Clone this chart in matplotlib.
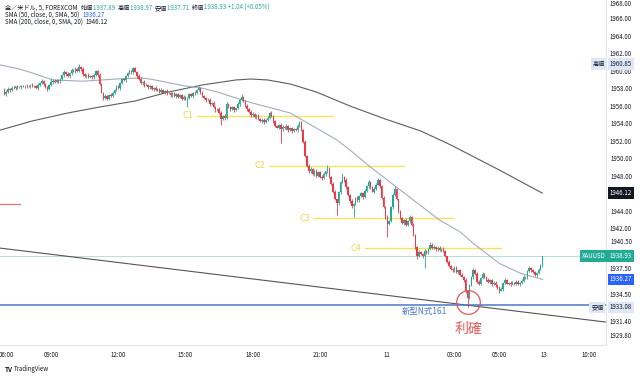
import matplotlib
matplotlib.use("Agg")
import matplotlib.pyplot as plt
import numpy as np

plt.rcParams['font.family'] = ['Noto Sans CJK JP', 'DejaVu Sans']

# XAUUSD 5 min candles, open of each = previous close
first_open = 1957.9
closes = [
    1957.45, 1957.7, 1958.0, 1957.9, 1958.15, 1958.1, 1958.3, 1958.2, 1958.25, 1958.35,
    1958.3, 1958.4, 1958.35, 1958.3, 1958.45, 1958.4, 1958.3, 1958.15, 1958.5, 1958.7,
    1958.95, 1958.6, 1958.2, 1958.05, 1958.5, 1958.8, 1958.95, 1958.85, 1959.0, 1958.9,
    1959.1, 1959.6, 1960.0, 1959.7, 1959.5, 1959.8, 1960.2, 1960.0, 1960.3, 1960.1,
    1960.55, 1960.3, 1959.7, 1959.5, 1959.6, 1959.4, 1959.5, 1959.35, 1959.6, 1960.05,
    1959.6, 1958.6, 1957.6, 1957.0, 1957.2, 1956.9, 1957.3, 1957.2, 1957.6, 1957.9,
    1958.3, 1958.1, 1958.7, 1959.1, 1959.0, 1959.5, 1959.8, 1960.1, 1959.9, 1960.35,
    1960.0, 1959.5, 1959.2, 1958.7, 1958.8, 1958.4, 1958.5, 1958.2, 1958.3, 1958.0,
    1958.1, 1957.9, 1958.0, 1957.7, 1957.9, 1957.6, 1957.8, 1957.5, 1957.6, 1957.3,
    1957.5, 1957.2, 1957.4, 1957.1, 1957.3, 1956.9, 1957.1, 1956.8, 1957.0, 1957.4,
    1957.2, 1957.6, 1957.5, 1957.9, 1958.1, 1957.6, 1957.2, 1957.0, 1956.7, 1956.8,
    1956.3, 1956.4, 1955.9, 1955.6, 1955.7, 1955.3, 1954.6, 1954.9, 1954.7, 1956.3,
    1956.0, 1955.7, 1955.9, 1955.6, 1955.8, 1956.3, 1956.8, 1957.1, 1956.6, 1956.1,
    1955.7, 1955.4, 1955.0, 1955.2, 1954.8, 1955.0, 1954.6, 1954.3, 1954.5, 1954.2,
    1954.5, 1954.7, 1955.3, 1954.9, 1954.3, 1953.8, 1953.6, 1953.9, 1953.4, 1953.7,
    1953.5, 1953.8, 1953.3, 1953.5, 1953.2, 1953.4, 1953.3, 1953.8, 1954.2, 1953.3,
    1952.0, 1950.4, 1949.2, 1948.6, 1948.9, 1948.3, 1948.7, 1948.1, 1948.5, 1948.0,
    1947.8, 1948.3, 1948.6, 1948.9, 1948.0, 1947.2, 1946.3, 1945.4, 1945.0, 1946.2,
    1947.4, 1948.0, 1947.6, 1946.8, 1945.9, 1945.2, 1944.6, 1944.9, 1945.6, 1945.3,
    1945.8, 1946.1, 1945.7, 1946.4, 1946.9, 1947.4, 1946.8, 1946.3, 1946.6, 1947.1,
    1947.6, 1946.9, 1945.6, 1944.5, 1943.4, 1942.6, 1942.9, 1944.5, 1945.9, 1946.6,
    1945.4, 1944.0, 1943.3, 1942.7, 1943.1, 1942.5, 1942.9, 1943.4, 1942.5, 1941.3,
    1940.0, 1939.0, 1939.4, 1939.2, 1938.9, 1939.5, 1939.3, 1939.8, 1940.2, 1939.9,
    1940.0, 1939.7, 1939.9, 1939.6, 1939.8, 1939.5, 1938.9, 1938.3, 1937.8, 1937.5,
    1937.3, 1937.6, 1937.1, 1937.3, 1936.8, 1936.6, 1936.2, 1934.9, 1934.2, 1935.6,
    1936.5, 1937.4, 1936.9, 1936.0, 1935.8, 1936.4, 1936.9, 1936.6, 1936.2, 1936.0,
    1936.2, 1935.7, 1935.9, 1935.6, 1935.3, 1935.0, 1935.2, 1935.9, 1936.2, 1935.8,
    1935.9, 1935.7, 1935.9, 1935.8, 1936.0, 1935.7, 1935.9, 1936.1, 1936.6, 1936.5,
    1937.2, 1937.6, 1937.3, 1937.1, 1936.8, 1937.0, 1937.4, 1937.89, 1938.93,
]
wick_up = [
    .2, .15, .2, .1, .2, .15, .1, .2, .15, .1,
    .15, .1, .2, .1, .15, .2, .1, .15, .2, .15,
    .2, .1, .15, .2, .1, .5, .2, .15, .2, .1,
    .2, .15, .2, .1, .2, .15, .2, .1, .2, .15,
    .3, .1, .2, .15, .1, .2, .15, .1, .2, .15,
    .1, .2, .15, .1, .2, .15, .1, .2, .15, .1,
    .2, .15, .1, .2, .15, .1, .2, .15, .1, .2,
    .15, .1, .2, .15, .1, .2, .15, .1, .2, .15,
    .1, .2, .15, .1, .2, .15, .1, .2, .15, .1,
    .2, .15, .1, .2, .15, .1, .2, .15, .1, .2,
    .15, .1, .2, .15, .2, .1, .2, .15, .1, .2,
    .15, .1, .2, .15, .1, .2, .15, .1, .2, .2,
    .15, .1, .2, .15, .1, .2, .15, .3, .1, .2,
    .15, .1, .2, .15, .1, .2, .15, .1, .2, .15,
    .1, .2, .1, .15, .1, .2, .15, .1, .2, .15,
    .1, .2, .15, .1, .2, .15, .1, .2, .2, .1,
    .15, .2, .1, .2, .15, .1, .2, .15, .1, .2,
    .15, .2, .1, .4, .15, .1, .2, .15, .1, .2,
    .15, .4, .1, .2, .15, .1, .2, .15, .1, .2,
    .15, .1, .2, .15, .1, .2, .15, .1, .2, .15,
    .3, .1, .2, .15, .1, .2, .15, .1, .2, .3,
    .15, .1, .2, .15, .1, .2, .15, .2, .1, .2,
    .15, .1, .2, .15, .1, .2, .15, .1, .3, .2,
    .15, .1, .2, .15, .1, .2, .15, .1, .2, .15,
    .1, .2, .15, .1, .2, .15, .1, .2, .15, .1,
    .2, .15, .1, .2, .15, .1, .2, .15, .1, .2,
    .15, .1, .2, .15, .1, .2, .15, .1, .2, .15,
    .1, .2, .15, .1, .2, .15, .1, .2, .15, .1,
    .2, .15, .1, .2, .15, .1, .2, .15, .04,
]
wick_dn = [
    .15, .2, .1, .2, .15, .1, .2, .15, .1, .2,
    .1, .15, .2, .1, .15, .2, .1, .15, .2, .1,
    .15, .2, .1, .25, .15, .1, .2, .15, .1, .2,
    .15, .1, .2, .15, .1, .2, .15, .1, .2, .15,
    .1, .2, .15, .1, .2, .15, .1, .2, .15, .1,
    .2, .15, .1, .2, .15, .15, .2, .15, .1, .2,
    .15, .1, .2, .15, .1, .2, .15, .1, .2, .15,
    .1, .2, .15, .1, .2, .15, .1, .2, .15, .1,
    .2, .15, .1, .2, .15, .1, .2, .15, .1, .2,
    .15, .1, .2, .15, .1, .2, .15, .1, .8, .15,
    .1, .2, .15, .1, .15, .2, .1, .15, .2, .1,
    .2, .15, .1, .2, .15, .1, .7, .15, .2, .1,
    .2, .15, .1, .2, .15, .1, .2, .15, .1, .2,
    .15, .1, .2, .15, .1, .2, .15, .1, .2, .15,
    .1, .2, .15, .1, .2, .15, .1, .2, 1.5, .15,
    .1, .2, .15, .1, .2, .15, .1, .2, .15, .1,
    .2, .15, .1, .2, .15, .1, .2, .15, .1, .2,
    .15, .1, .2, .15, .1, .2, .15, .1, 1.4, .2,
    .15, .1, .2, .15, .1, .2, .15, 1.2, .1, .2,
    .15, .1, .2, .15, .1, .2, .15, .1, .2, .15,
    .1, .2, .15, .1, .2, 1.5, .15, .1, .2, .15,
    .1, .2, .15, .1, .2, .15, .1, .2, .15, .1,
    .2, .4, .15, .1, .2, 1.3, .15, .1, .2, .15,
    .1, .2, .15, .1, .2, .15, .1, .2, .15, .1,
    .2, .15, .1, .2, .15, .1, .2, .15, 1.12, .15,
    .1, .2, .15, .1, .2, .15, .1, .2, .15, .1,
    .2, .15, .1, .2, .15, .3, .1, .2, .15, .1,
    .2, .15, .1, .2, .15, .1, .2, .15, .1, .2,
    .15, .1, .2, .15, .1, .2, .15, .1, .18,
]

# moving averages (candle index, price)
sma50_idx = [-2, 8, 15, 26, 42, 60, 73, 78, 97, 106, 114, 124, 133, 145, 153, 167,
             178, 185, 196, 207, 221, 233, 244, 251, 265, 276, 288]
sma50_val = [1960.75, 1960.3, 1959.84, 1959.04, 1958.9, 1959.15, 1959.27, 1959.15,
             1958.35, 1958.1, 1957.67, 1956.98, 1956.4, 1955.73, 1955.27, 1953.56,
             1952.2, 1951.05, 1949.1, 1947.3, 1945.0, 1943.05, 1941.7, 1940.4,
             1938.1, 1937.0, 1936.27]
sma200_idx = [-2, 15, 34, 51, 70, 88, 106, 124, 132, 141, 153, 167, 185, 204, 223,
              239, 265, 288]
sma200_val = [1953.33, 1954.36, 1955.27, 1955.95, 1956.64, 1957.67, 1958.47, 1959.04,
              1959.15, 1959.04, 1958.58, 1957.67, 1956.07, 1954.58, 1953.21, 1951.62,
              1948.76, 1946.12]

# drawings
c_names = ['C1', 'C2', 'C3', 'C4']
c_levels = [1954.93, 1949.22, 1943.25, 1939.82]
c_start = [103, 142, 166, 193]
c_end = [176, 214, 240, 266]
target_level = 1933.3
trend_x = [-2.3, 322.1]
trend_y = [1939.85, 1931.4]
last_price = 1938.93

time_idx = [1, 25, 61, 97, 133, 169, 205, 241, 265, 289, 313]
time_lbl = ['06:00', '09:00', '12:00', '15:00', '18:00', '21:00', '11',
            '03:00', '05:00', '13', '10:00']
price_ticks = [1966, 1964, 1962, 1960, 1958, 1956, 1954, 1952, 1950, 1948,
               1944, 1942, 1940.5, 1937.5, 1934.5, 1931.4, 1929.8]

UP = '#22ab94'
DN = '#f23645'

c = np.array(closes)
o = np.r_[first_open, c[:-1]]
hi = np.maximum(o, c) + np.array(wick_up)
lo = np.minimum(o, c) - np.array(wick_dn)
x = np.arange(len(c))
col = np.where(c >= o, UP, DN)

fig = plt.figure(figsize=(6.4, 3.77), dpi=100)
ax = fig.add_axes([0, 1 - 345 / 377, 606 / 640, 345 / 377])
ax.set_xlim(-2.3, 322.1)
ax.set_ylim(1928.785, 1968.169)

# price line + drawings behind candles
ax.axhline(last_price, color='#a8dcd2', lw=0.6, zorder=1)
ax.plot(trend_x, trend_y, color='#555555', lw=0.8, zorder=1)
ax.axhline(target_level, color='#4a78c8', lw=1.1, zorder=1)
ax.plot([-2.3, 8.5], [1944.9, 1944.9], color='#e57373', lw=0.9, zorder=1)
for name, lev, s, e in zip(c_names, c_levels, c_start, c_end):
    ax.plot([s, e], [lev, lev], color='#f2e45c', lw=1.0, zorder=1)
    ax.text(s - 2, lev, name, color='#ecd94a', fontsize=6.5, ha='right', va='center')

ax.plot(sma200_idx, sma200_val, color='#5d5d5d', lw=0.8, zorder=2)
ax.plot(sma50_idx, sma50_val, color='#a3acbf', lw=0.8, zorder=2)

ax.vlines(x, lo, hi, colors=col, lw=0.6, zorder=3)
ax.bar(x, np.maximum(np.abs(c - o), 0.05), bottom=np.minimum(o, c), width=0.8,
       color=col, lw=0, zorder=3)

# take profit mark
ax.plot(248.2, 1933.7, 'o', ms=17, mfc='none', mec='#e05a5a', mew=0.9, zorder=4)
ax.text(248.2, 1930.6, '利確', color='#e05a5a', fontsize=10, ha='center', va='center')
ax.text(224.7, 1932.67, '新型N式161', color='#4a78c8', fontsize=6, ha='center', va='center')

ax.set_xticks([])
ax.set_yticks([])
for sp in ['top', 'left']:
    ax.spines[sp].set_visible(False)
for sp in ['right', 'bottom']:
    ax.spines[sp].set_color('#e0e3eb')
    ax.spines[sp].set_linewidth(0.8)

ytr = ax.get_yaxis_transform()
ax.text(1.043, 1967.75, '1968.00', transform=ytr, ha='right', va='center',
        fontsize=4.4, color='#131722', clip_on=False)
for p in price_ticks:
    ax.text(1.043, p, f'{p:.2f}', transform=ytr, ha='right', va='center',
            fontsize=4.4, color='#131722', clip_on=False)
# axis price labels
ax.text(1.043, 1960.85, '1960.85', transform=ytr, ha='right', va='center', fontsize=4.4,
        color='#131722', bbox=dict(boxstyle='square,pad=0.3', fc='#dde7f7', ec='none'))
ax.text(0.998, 1960.85, '高値', transform=ytr, ha='right', va='center', fontsize=4.4,
        color='#131722', bbox=dict(boxstyle='square,pad=0.3', fc='#dde7f7', ec='none'))
ax.text(1.043, 1946.12, '1946.12', transform=ytr, ha='right', va='center', fontsize=4.4,
        color='white', bbox=dict(boxstyle='square,pad=0.3', fc='#131722', ec='none'))
ax.text(1.043, last_price, '1938.93', transform=ytr, ha='right', va='center', fontsize=4.4,
        color='white', bbox=dict(boxstyle='square,pad=0.3', fc=UP, ec='none'))
ax.text(1.0, last_price, 'XAUUSD', transform=ytr, ha='right', va='center', fontsize=4.4,
        color='white', bbox=dict(boxstyle='square,pad=0.3', fc=UP, ec='none'))
ax.text(1.043, 1936.27, '1936.27', transform=ytr, ha='right', va='center', fontsize=4.4,
        color='white', bbox=dict(boxstyle='square,pad=0.3', fc='#2962ff', ec='none'))
ax.text(1.043, 1933.08, '1933.08', transform=ytr, ha='right', va='center', fontsize=4.4,
        color='#131722', bbox=dict(boxstyle='square,pad=0.3', fc='#dde7f7', ec='none'))
ax.text(0.996, 1933.08, '安値', transform=ytr, ha='right', va='center', fontsize=4.4,
        color='#131722', bbox=dict(boxstyle='square,pad=0.3', fc='#dde7f7', ec='none'))

xtr = ax.get_xaxis_transform()
for t, lab in zip(time_idx, time_lbl):
    ax.text(t, -0.029, lab, transform=xtr, ha='center', va='center', fontsize=4.4,
            color='#131722', clip_on=False)

# header legend
def chain(parts, y):
    prev = fig.text(0.008, y, parts[0][0], color=parts[0][1], fontsize=4.4, va='baseline')
    for txt, cc in parts[1:]:
        prev = ax.annotate(txt, xy=(1, 0), xycoords=prev, color=cc, fontsize=4.4,
                           va='bottom', annotation_clip=False)

chain([('金／米ドル, 5, FOREXCOM  ', '#131722'), ('始値', '#131722'), ('1937.89  ', UP),
       ('高値', '#131722'), ('1938.97  ', UP), ('安値', '#131722'), ('1937.71  ', UP),
       ('終値', '#131722'), ('1938.93 +1.04 (+0.05%)', UP)], 1 - 10 / 377)
chain([('SMA (50, close, 0, SMA, 50)  ', '#131722'), ('1936.27', '#2962ff')], 1 - 17 / 377)
chain([('SMA (200, close, 0, SMA, 20)  ', '#131722'), ('1946.12', '#131722')], 1 - 24 / 377)

fig.text(5 / 640, 1 - 369 / 377, 'TV', fontsize=4.6, fontweight='bold', color='#131722',
         va='center')
fig.text(14 / 640, 1 - 369 / 377, 'TradingView', fontsize=4.4, color='#131722', va='center')

fig.savefig('out.png', dpi=100)
